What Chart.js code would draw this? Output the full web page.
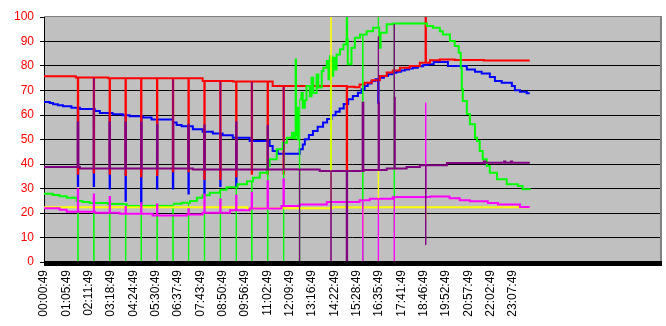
<!DOCTYPE html>
<html><head><meta charset="utf-8">
<script src="https://cdn.jsdelivr.net/npm/chart.js@4.4.0/dist/chart.umd.min.js"></script>
<style>html,body{margin:0;padding:0;background:#fff;}canvas{display:block;}</style>
</head><body>
<canvas id="c" width="666" height="326"></canvas>
<script>
// ---- category labels (one every 66 samples) ----
const timeLabels = ['00:00:49','01:05:49','02:11:49','03:18:49','04:24:49','05:30:49','06:37:49','07:43:49','08:50:49','09:56:49','11:02:49','12:09:49','13:16:49','14:22:49','15:28:49','16:35:49','17:41:49','18:46:49','19:52:49','20:57:49','22:02:49','23:07:49'];
const LABEL_STEP = 66;
const X_MAX = 1821;

// ---- red series ----
const redX = [0, 94, 190, 469, 558, 676, 895, 918, 933, 948, 969, 993, 1013, 1031, 1052, 1081, 1111, 1141, 1170, 1214, 1300, 1436];
const redY = [75.8, 75.3, 75.0, 73.9, 73.7, 71.8, 71.5, 71.3, 72.5, 73.2, 74.2, 75.9, 77.3, 78.2, 79.3, 80.0, 81.3, 82.3, 82.7, 82.4, 82.2, 82.2];
const redSpikeX = [100,147,194,241,287,334,381,427,474,521,568,614,661,708,895,1128];
const redSpikeY = [36,36.5,36,35.5,35,35.5,37,37,34,34,35,36,36,36,37,100];

// ---- blue series ----
const blueX = [0,17,27,41,56,81,106,150,165,203,233,253,292,318,381,392,407,440,469,499,528,558,608,667,676,691,756,765,771,783,795,809,825,837,850,862,874,886,899,913,928,939,948,957,968,980,993,1005,1017,1030,1042,1055,1067,1079,1091,1105,1121,1135,1152,1194,1250,1274,1294,1318,1333,1353,1383,1392,1407,1427,1436];
const blueY = [65.3,64.9,64.4,64.0,63.6,63.0,62.4,61.6,60.8,60.3,59.9,59.5,59.0,58.2,56.9,55.9,55.4,54.2,53.2,52.5,51.7,50.7,49.4,47.3,45.3,44.2,46,48,50.1,51.8,53.5,55.2,56.9,58.4,59.9,61.3,62.7,64.5,66.4,67.8,69.1,70.5,71.8,72.9,73.9,74.6,75.2,75.9,76.6,77.2,77.7,78.2,78.6,79.0,79.3,79.9,80.4,80.7,81.6,80,78.6,77.7,76.9,75.5,73.9,73.2,71.8,70.1,69.5,68.9,68.9];
const blueSpikeX = [100,147,194,241,287,334,381,427,474,521,568,988];
const blueSpikeY = [31,31,30,25,24,30,30,28,28,31,31,65];

// ---- purple series ----
const purpleX = [0, 106, 440, 815, 945, 1013, 1072, 1111, 1191, 1300, 1305, 1360, 1364, 1380, 1384, 1436];
const purpleY = [38.8, 38.2, 37.8, 37.1, 37.6, 38.2, 38.8, 39.5, 40.4, 41.0, 40.5, 41.0, 40.5, 41.0, 40.5, 40.5];
const purpleSpikeX = [100,147,194,241,287,334,381,427,474,521,568,614,661,708,755,848,895,942,943,988,989,1035,1036,1128];
const purpleSpikeY = [57,75,57,57,57,56,74.5,56,55.7,73.5,57,73.5,55.5,71.4,0,0,0,65,65,92,65,97,67,7];

// ---- magenta series ----
const magentaX = [0,46,67,150,224,321,422,469,550,608,702,756,836,933,963,1031,1141,1199,1229,1259,1312,1342,1407,1436];
const magentaY = [21.9,21.3,20.5,20.1,19.7,19.0,19.4,20.1,21.1,21.8,22.9,23.5,24.5,25.2,25.8,26.5,26.7,26.0,25.2,24.8,24.1,23.5,22.4,22.4];
const magentaSpikeX = [100,147,194,241,287,334,427,474,521,568,614,661,708,942,988,1035,1128];
const magentaSpikeY = [29.7,27.6,26.5,22.5,24,23.5,21.5,27.6,25.5,27,28.3,33,33.8,0,0,0,65];

// ---- yellow series ----
const yellowX = [0, 600, 852, 1436];
const yellowY = [22.3, 21.9, 22.3, 22.3];
const yellowSpikeX = [848, 895, 942, 988, 1128];
const yellowSpikeY = [100, 12, 10.6, 37, 17];

// ---- green series ----
const greenX = [0,26,46,67,97,114,135,190,244,382,407,431,452,469,490,520,540,572,600,618,638,660,667,688,706,718,733,738,744,745,748,751,756,761,765,771,776,786,791,796,806,811,821,826,836,841,845,850,855,860,865,875,885,894,898,904,909,919,934,954,973,991,995,1013,1031,1111,1132,1150,1170,1179,1200,1214,1226,1232,1235,1238,1250,1259,1274,1280,1288,1297,1309,1318,1339,1368,1401,1415,1436];
const greenY = [27.9,27.3,26.8,26.2,24.9,24.5,24.1,23.7,22.9,23.8,24.2,24.9,26.2,27.2,28.3,29.5,30.5,31.7,33,34.4,36.4,39.2,41.9,46,48.7,50.7,52.8,50.5,82.7,52,63,50,66.3,69,63,66,71.8,67.7,75.2,69,76.5,71.2,77.9,79.3,82,74.6,84,76,83.4,78.6,84.7,86.8,88.8,90.8,80.7,80.7,87.5,91.5,92.9,94.2,95.6,87.5,93.6,97,97.3,97.3,96.3,95.6,94.2,92.9,90.2,88.2,85.4,79.3,70.5,65.7,60.4,56.2,50.7,49.4,45.3,41.9,39.2,36.4,33.8,31.7,31,29.7,29.3];
const greenSpikeX = [100,147,194,241,287,334,381,427,474,521,568,614,661,708,755,848,895,942,988,1035];
const greenSpikeY = [0,0,0,0,0,0,0,0,0,0,0,0,0,0,0,37,100,0,100,12];

// ---- style: which spikes are drawn as hairlines ----
const thinSpikes = {
  purple: [147, 381, 521, 614, 708, 755, 848, 988, 1035, 1128],
  green: greenSpikeX.filter(x => x !== 895),
  yellow: yellowSpikeX,
  magenta: [942, 988, 1035, 1128],
  red: [], blue: []
};

function buildSeries(bx, by, sx, sy) {
  const pts = bx.map((x, i) => ({x: x, y: by[i]}));
  const baseAt = x => { let v = by[0]; for (let i = 0; i < bx.length; i++) { if (bx[i] <= x) v = by[i]; else break; } return v; };
  const sset = new Set(sx);
  sx.forEach((x, i) => {
    if (!sset.has(x - 1)) pts.push({x: x - 1, y: baseAt(x - 1)});
    pts.push({x: x, y: sy[i]});
    if (!sset.has(x + 1)) pts.push({x: x + 1, y: baseAt(x + 1)});
  });
  pts.sort((a, b) => a.x - b.x);
  return pts;
}

const plotDeco = {
  id: 'plotDeco',
  beforeDraw(chart) {
    const {ctx, chartArea: a} = chart;
    ctx.save();
    ctx.fillStyle = '#c0c0c0';
    ctx.fillRect(a.left, a.top, a.right - a.left, a.bottom - a.top);
    ctx.fillStyle = '#808080';
    ctx.fillRect(a.left, a.top - 1, a.right - a.left, 1);
    ctx.fillRect(a.right, a.top - 1, 2, a.bottom - a.top + 1);
    ctx.restore();
  },
  afterDatasetsDraw(chart) {
    const {ctx, chartArea: a} = chart;
    ctx.save();
    ctx.fillStyle = '#000';
    ctx.fillRect(a.left, a.bottom - 1, a.right - a.left + 2, 5);
    ctx.restore();
  }
};

Chart.defaults.font.family = "'Liberation Sans', Arial, sans-serif";
Chart.defaults.font.size = 12;

function ds(label, color, data, order) {
  const thin = new Set(thinSpikes[label]);
  return {label, data, borderColor: color, backgroundColor: color, borderWidth: 2,
    pointRadius: 0, stepped: true, tension: 0, fill: false, order,
    segment: {
      borderWidth: c => {
        const d = c.chart.data.datasets[c.datasetIndex].data;
        const a = d[c.p0DataIndex], b = d[c.p1DataIndex];
        return (a && thin.has(a.x)) || (b && thin.has(b.x)) ? 1 : 2;
      }
    }};
}

new Chart(document.getElementById('c'), {
  type: 'line',
  data: {
    datasets: [
      ds('purple', '#800080', buildSeries(purpleX, purpleY, purpleSpikeX, purpleSpikeY), 0),
      ds('magenta', '#ff00ff', buildSeries(magentaX, magentaY, magentaSpikeX, magentaSpikeY), 1),
      ds('yellow', '#ffff00', buildSeries(yellowX, yellowY, yellowSpikeX, yellowSpikeY), 2),
      ds('green', '#00ff00', buildSeries(greenX, greenY, greenSpikeX, greenSpikeY), 3),
      ds('red', '#ff0000', buildSeries(redX, redY, redSpikeX, redSpikeY), 4),
      ds('blue', '#0000ff', buildSeries(blueX, blueY, blueSpikeX, blueSpikeY), 5)
    ]
  },
  options: {
    responsive: false,
    animation: false,
    devicePixelRatio: 1,
    layout: {padding: {left: 0, right: 6, top: 17, bottom: 0}},
    plugins: {legend: {display: false}, tooltip: {enabled: false}},
    scales: {
      x: {
        type: 'linear', min: 0, max: X_MAX,
        afterBuildTicks: s => { s.ticks = timeLabels.map((_, i) => ({value: i * LABEL_STEP})); },
        afterFit: s => { s.height = 64; },
        grid: {display: false, drawTicks: false, tickLength: 0},
        border: {display: false},
        ticks: {autoSkip: false, minRotation: 90, maxRotation: 90, padding: 8, color: '#000',
          callback: (v, i) => timeLabels[i] !== undefined ? timeLabels[i] : ''}
      },
      y: {
        min: 0, max: 100,
        afterFit: s => { s.width = 44; },
        grid: {
          color: c => (c.tick && (c.tick.value === 100 || c.tick.value === 0)) ? 'rgba(0,0,0,0)' : '#000',
          tickColor: '#000', tickLength: 4, lineWidth: 1
        },
        border: {display: true, color: '#000', width: 1},
        ticks: {stepSize: 10, color: '#ff0000', padding: 6}
      }
    }
  },
  plugins: [plotDeco]
});
</script>
</body></html>
